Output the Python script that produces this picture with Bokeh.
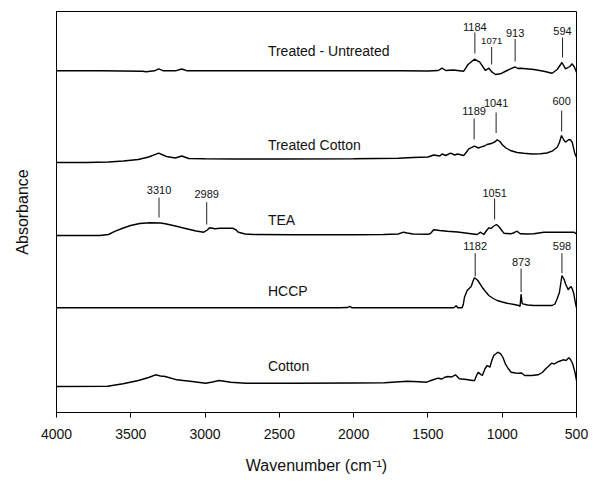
from bokeh.plotting import figure
from bokeh.models import Range1d, FixedTicker, ColumnDataSource
from bokeh.core.properties import value
from bokeh.embed import file_html
from bokeh.resources import INLINE

FONT = value("Liberation Sans")

# ---- spectra: wavenumber (cm-1) and absorbance above each trace's own baseline (a.u.)
TU_WN = [4000, 3700, 3420, 3397, 3340, 3312, 3280, 3200, 3157, 3120,
         3000, 2500, 2000, 1685, 1500, 1430, 1405, 1380, 1330, 1259,
         1230, 1187, 1151, 1113, 1090, 1068, 1045, 1012, 967, 933,
         913, 895, 877, 787, 720, 664, 630, 598, 574, 545,
         529, 514, 500]
TU_ABS = [0, 0, -0.5, -0.9, 0, 2, 0, 0, 1.8, 0,
          0, 0, 0, 0, -0.2, 0.3, 2.6, 0.3, 0.8, -0.4,
          6.3, 11.6, 8.6, 0.3, 2.6, -1.4, -3.7, -3, 0.3, 2.6,
          3.8, 2.3, 2.6, 1.3, -0.4, -2.4, 1.3, 8.3, 2, 4.3,
          7, 3.6, -1.4]

TC_WN = [4000, 3800, 3650, 3550, 3450, 3380, 3312, 3260, 3200, 3157,
         3110, 3000, 2800, 2500, 2000, 1700, 1600, 1500, 1461, 1420,
         1405, 1380, 1348, 1320, 1300, 1259, 1240, 1225, 1187, 1160,
         1146, 1120, 1102, 1068, 1050, 1034, 1015, 1001, 975, 945,
         900, 855, 800, 742, 700, 664, 630, 615, 601, 585,
         574, 552, 540, 529, 511, 500]
TC_ABS = [-3.7, -3.7, -3.2, -2.2, -0.7, 1.8, 5.6, 2.3, 0.8, 2.8,
          0.3, 0, -0.2, -0.2, 0, 0.5, 1.3, 1.8, 3.8, 2.8,
          4.8, 3.3, 5.6, 3.8, 4.8, 3.3, 6.8, 10, 12.6, 10.8,
          11.6, 12.8, 14.3, 15.6, 16.8, 19, 17.3, 14.3, 10.8, 8.3,
          6.3, 5.6, 4.8, 5, 5.8, 7.6, 11.6, 16.3, 23.3, 18.8,
          16.6, 19.3, 18.8, 16.6, 5, 1.6]

TEA_WN = [4000, 3708, 3650, 3604, 3550, 3501, 3440, 3371, 3300, 3268,
          3200, 3139, 3060, 3009, 2985, 2970, 2932, 2900, 2867, 2815,
          2790, 2776, 2730, 2673, 2400, 2000, 1800, 1700, 1664, 1640,
          1600, 1500, 1483, 1461, 1420, 1371, 1300, 1236, 1169, 1146,
          1124, 1105, 1090, 1075, 1061, 1050, 1039, 1023, 1005, 989,
          944, 925, 900, 885, 877, 830, 787, 720, 600, 518,
          500]
TEA_ABS = [-1, -1, 0, 3.3, 6.5, 9, 11, 11.7, 11.5, 10.7,
           8.5, 6.3, 3.5, 2.3, 4.5, 6.7, 5.7, 6.2, 6.3, 6.3,
           4.5, 2.3, 0.5, 0, -0.3, -0.3, 0, 0.5, 2.3, 1.5,
           0.5, 0.2, 1, 4.7, 4, 3.3, 2.5, 1.3, 0, 2.3,
           0, 4, 6.7, 6, 8, 9, 10, 8, 4.5, 1.3,
           0.7, 1.5, 3.3, 1.5, 0.7, 0.5, 0.7, 2.3, 2.3, 2.3,
           0.7]

HCCP_WN = [4000, 3000, 2100, 2040, 2026, 2010, 1800, 1400, 1326, 1310,
           1299, 1270, 1262, 1254, 1236, 1209, 1195, 1187, 1175, 1164,
           1135, 1110, 1090, 1060, 1034, 1000, 967, 920, 888, 880,
           873, 866, 859, 830, 787, 720, 664, 645, 630, 615,
           608, 598, 583, 574, 556, 545, 536, 527, 518, 508,
           500]
HCCP_ABS = [0, 0, 0, 0.3, 1.5, 0, 0, 0, 0, 2,
            0, 0, 3.3, 10.6, 17.3, 21.3, 27.3, 30, 28.8, 27.3,
            20.6, 15.8, 12.3, 9.3, 7.3, 5.8, 4.6, 3.3, 2.3, 1.3,
            13.6, 4.3, 4, 2.8, 2.3, 2.3, 2.3, 3.8, 9, 15.3,
            22.3, 32.3, 28.3, 24, 18, 20.3, 21.3, 18.3, 14, 5.3,
            0]

COT_WN = [4000, 3656, 3552, 3449, 3380, 3333, 3300, 3268, 3190, 3087,
          2996, 2950, 2906, 2860, 2828, 2725, 2400, 2000, 1793, 1638,
          1560, 1509, 1470, 1431, 1405, 1390, 1367, 1340, 1315, 1300,
          1289, 1240, 1200, 1186, 1170, 1160, 1145, 1134, 1115, 1101,
          1083, 1070, 1057, 1040, 1030, 1010, 995, 979, 960, 940,
          910, 888, 870, 849, 800, 759, 730, 707, 690, 668,
          650, 629, 610, 590, 570, 552, 540, 526, 510, 500]
COT_ABS = [0, 0.3, 2.7, 6, 9, 11.7, 10.5, 10, 6.7, 5,
           3.3, 4.5, 6, 5, 4.3, 3.3, 3.3, 3.5, 3.7, 5.3,
           4.8, 4.3, 6.5, 8.3, 7.5, 9, 10, 9.5, 11.7, 9.5,
           7.7, 7, 6, 6, 12, 14.3, 12, 11, 18, 21,
           19.3, 26, 31, 33, 34.3, 32.7, 29, 22.7, 18, 14.3,
           13.5, 13.3, 13.5, 11, 11, 11.7, 14, 17.7, 20, 23.3,
           22.5, 24.3, 25.5, 26.7, 26, 28.7, 27, 22.7, 14, 6]

SERIES_NAMES = ["Treated - Untreated", "Treated Cotton", "TEA", "HCCP", "Cotton"]
SERIES_WN = [TU_WN, TC_WN, TEA_WN, HCCP_WN, COT_WN]
SERIES_ABS = [TU_ABS, TC_ABS, TEA_ABS, HCCP_ABS, COT_ABS]

# peak annotations: which trace, wavenumber, label
PEAK_SERIES = [0, 0, 0, 0, 1, 1, 1, 2, 2, 2, 3, 3, 3]
PEAK_WN = [1184, 1071, 913, 594, 1189, 1041, 600, 3310, 2989, 1051, 1182, 873, 598]
PEAK_TEXT = ["1184", "1071", "913", "594", "1189", "1041", "600",
             "3310", "2989", "1051", "1182", "873", "598"]

X_TICKS = [4000, 3500, 3000, 2500, 2000, 1500, 1000, 500]

# ---- layout of the stack (vertical offsets, marker geometry, label placement)
OFFSETS = [341.7, 253.7, 178.0, 104.7, 26.0]
NAME_X = 2577
NAME_Y = [362, 268, 192.7, 122, 47]
MARK_Y0 = [359, 348, 351, 355, 273, 279.5, 281, 195, 188, 193, 136, 120.3, 139.3]
MARK_Y1 = [380, 365.5, 373.5, 375, 294, 300, 302, 215, 210.3, 214, 159.3, 144, 159.3]
MARK_LABEL_Y = [386, 371.5, 380, 382, 301.5, 309.5, 312, 222.7, 218.7, 219.3, 167, 150.3, 167]
MARK_FONT = ["11px", "9.5px", "11px", "11px", "11px", "11px", "11px",
             "11px", "11px", "11px", "11px", "11px", "11px"]

p = figure(width=602, height=484,
           x_range=Range1d(4000, 500), y_range=Range1d(0, 401),
           output_backend="svg", toolbar_location=None,
           min_border_left=56, min_border_right=26,
           min_border_top=11, min_border_bottom=72)

p.background_fill_color = "white"
p.border_fill_color = "white"
p.outline_line_color = "black"
p.outline_line_width = 1
p.xgrid.visible = False
p.ygrid.visible = False

# spectra
for wn, ab, off in zip(SERIES_WN, SERIES_ABS, OFFSETS):
    p.line(x=wn, y=[off + a for a in ab], line_color="black", line_width=1.4)

# trace names
p.text(x=[NAME_X] * len(SERIES_NAMES), y=NAME_Y, text=SERIES_NAMES,
       text_font=FONT, text_font_size="14px", text_color="#111111",
       text_align="left", text_baseline="middle")

# peak markers
mark_src = ColumnDataSource(dict(x=PEAK_WN, y0=MARK_Y0, y1=MARK_Y1,
                                 ly=MARK_LABEL_Y, txt=PEAK_TEXT, fs=MARK_FONT))
p.segment(x0="x", y0="y0", x1="x", y1="y1", source=mark_src,
          line_color="#222222", line_width=1)
p.text(x="x", y="ly", text="txt", text_font_size="fs", source=mark_src,
       text_font=FONT, text_color="#111111",
       text_align="center", text_baseline="middle")

# x axis
xa = p.xaxis[0]
xa.ticker = FixedTicker(ticks=X_TICKS)
xa.minor_tick_line_color = None
xa.major_tick_in = 0
xa.major_tick_out = 5
xa.major_tick_line_color = "black"
xa.axis_line_color = "black"
xa.major_label_text_font = "Liberation Sans"
xa.major_label_text_font_size = "14px"
xa.major_label_text_color = "#111111"
xa.major_label_standoff = 11
xa.axis_label = "Wavenumber (cm\u207b\u00b9)"
xa.axis_label_text_font = "Liberation Sans"
xa.axis_label_text_font_size = "16px"
xa.axis_label_text_font_style = "normal"
xa.axis_label_text_color = "#111111"
xa.axis_label_standoff = 15

# y axis: label only
ya = p.yaxis[0]
ya.ticker = FixedTicker(ticks=[])
ya.major_tick_out = 0
ya.major_tick_in = 0
ya.minor_tick_line_color = None
ya.major_label_standoff = 0
ya.axis_line_color = "black"
ya.axis_label = "Absorbance"
ya.axis_label_text_font = "Liberation Sans"
ya.axis_label_text_font_size = "16px"
ya.axis_label_text_font_style = "normal"
ya.axis_label_text_color = "#111111"
ya.axis_label_standoff = 26

open("out.html", "w").write(file_html(p, INLINE))
